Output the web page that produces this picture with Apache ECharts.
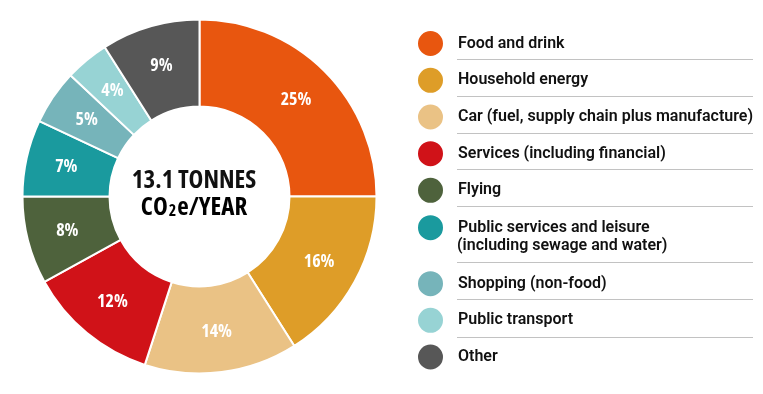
<!DOCTYPE html>
<html><head><meta charset="utf-8">
<script src="https://cdn.jsdelivr.net/npm/echarts@6/dist/echarts.min.js"></script>
<style>html,body{margin:0;padding:0;background:#fff}#c{width:763px;height:394px}</style>
</head><body><div id="c"></div>
<script>
const categories = ["Food and drink","Household energy","Car (fuel, supply chain plus manufacture)","Services (including financial)","Flying","Public services and leisure\n(including sewage and water)","Shopping (non-food)","Public transport","Other"];
const values = [25,16,14,12,8,7,5,4,9];
const colors = ["#E8560F","#DE9D28","#EAC285","#D01218","#4E623C","#1A9A9E","#76B4BA","#97D3D4","#575757"];
const centerLine1 = "13.1 TONNES";
const centerLine2 = ["CO","2","e/YEAR"];

const legendCenters = [42.5,79.3,116,152.7,189.3,226.7,282.7,319.3,356];
const sepYs = [59.5,96.5,133.5,169.5,206.5,262.5,299.5,337.5];
const legendFont = {fontFamily:'Roboto', fontWeight:600, fontSize:16, color:'#111', padding:[0,0,0,9]};

const chart = echarts.init(document.getElementById('c'));
const legends = categories.map((n,i)=>({
  orient:'vertical', left:416, top:legendCenters[i]-13.5, padding:0, icon:'circle',
  itemWidth:27, itemHeight:27, selectedMode:false,
  formatter: name => name.split('\n')[0],
  textStyle: legendFont,
  data:[n]
}));
const extraLines = [];
categories.forEach((n,i)=>{
  n.split('\n').slice(1).forEach((t,k)=>{
    extraLines.push({type:'text', x:457, y:legendCenters[i]-1.5+21*(k+1), style:{text:t, font:'600 16px Roboto', fill:'#111', verticalAlign:'middle'}});
  });
});
chart.setOption({
  animation:false,
  color: colors,
  legend: legends,
  graphic: sepYs.map(y=>({type:'line', shape:{x1:457,y1:y,x2:753,y2:y}, style:{stroke:'#c2c2c2', lineWidth:1}}))
    .concat(extraLines)
    .concat([
    {type:'text', x:194, y:181, style:{text:centerLine1, font:'bold condensed 25px "Open Sans"', fill:'#111', align:'center', verticalAlign:'middle'}},
    {type:'text', x:194, y:208, style:{text:'{a|'+centerLine2[0]+'}{b|'+centerLine2[1]+'}{a|'+centerLine2[2]+'}', align:'center', verticalAlign:'middle',
      rich:{a:{fontFamily:'Open Sans', fontWeight:'bold condensed', fontSize:25, color:'#111'}, b:{fontFamily:'Open Sans', fontWeight:'bold condensed', fontSize:16, color:'#111', padding:[7,1,0,1]}}}}
  ]),
  series:[{
    type:'pie', center:[199.5,196.5], radius:[90,177], startAngle:90, clockwise:true,
    avoidLabelOverlap:false,
    itemStyle:{borderColor:'#fff', borderWidth:2},
    label:{show:true, position:'inside', formatter:'{c}%', color:'#fff', fontFamily:'Open Sans', fontWeight:'bold condensed', fontSize:18},
    labelLine:{show:false},
    emphasis:{disabled:true},
    data: categories.map((n,i)=>({name:n, value:values[i]}))
  }]
});
</script></body></html>
